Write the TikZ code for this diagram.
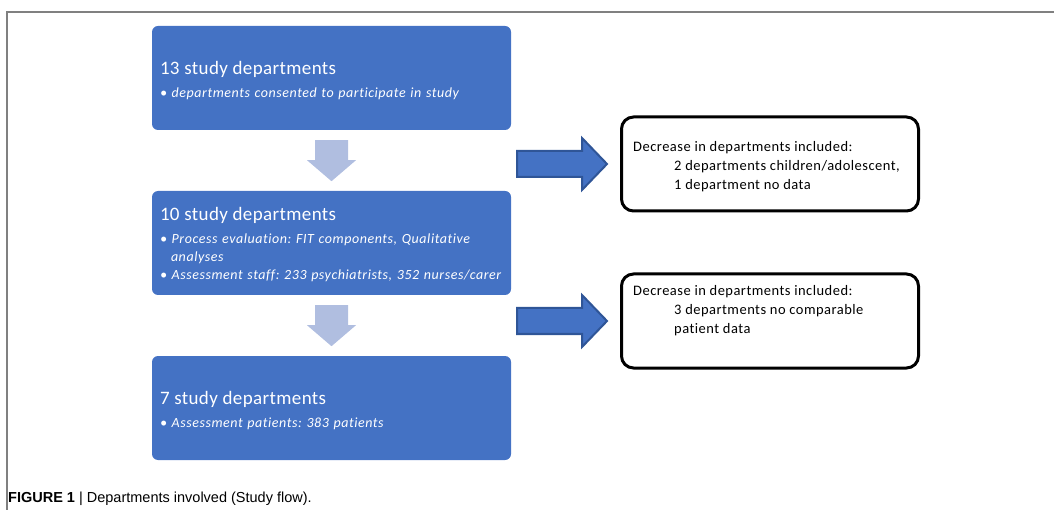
\documentclass[tikz,border=0pt]{standalone}
\usepackage{fontspec}
\setmainfont{Carlito}[Ligatures=CommonOff]
\newfontfamily\capfont{Liberation Sans}
\usetikzlibrary{calc}
\frenchspacing
\definecolor{studyblue}{HTML}{4472C4}
\definecolor{arrowpale}{HTML}{B0BEE0}
\definecolor{arrowedge}{HTML}{2F5597}
\definecolor{framegray}{HTML}{808080}
\newcommand{\boxtitle}{\upshape\addfontfeatures{LetterSpace=2}\fontsize{19}{22}\selectfont}
\newcommand{\boxitem}{\itshape\addfontfeatures{LetterSpace=4}\fontsize{14}{18}\selectfont}
\tikzset{
  studybox/.style={fill=studyblue, rounded corners=6pt, minimum width=359pt, minimum height=104pt},
  studytext/.style={text width=343pt, align=left, inner sep=0pt, text=white, font=\boxitem},
  dropbox/.style={draw, line width=3pt, rounded corners=12pt, minimum width=297pt, minimum height=94pt},
  droptext/.style={align=left, inner sep=0pt, font=\addfontfeatures{LetterSpace=3.3}\fontsize{14.5}{19}\selectfont},
  downarrow/.style={fill=arrowpale},
  rightarrow/.style={fill=studyblue, draw=arrowedge, line width=2pt}
}
\begin{document}
\begin{tikzpicture}[x=1pt,y=-1pt]
\useasboundingbox (0,0) rectangle (1054,510);
% frame and caption
\draw[framegray, line width=2pt] (7,510) -- (7,12) -- (1054,12);
\node[anchor=base west, inner sep=0pt, font=\capfont\fontsize{14.5}{16}\selectfont] (caption) at (8,502)
  {\textbf{FIGURE 1} \textbar{} Departments involved (Study flow).};
% study flow
\node[studybox] (box13) at (331.5,78) {};
\node[studytext] (box13txt) at ($(box13.center)+(0,3)$) {{\boxtitle 13 study departments}\\[5pt]
  \textbullet{} departments consented to participate in study};
\node[studybox] (box10) at (331.5,243) {};
\node[studytext] (box10txt) at ($(box10.center)+(0,2)$) {{\boxtitle 10 study departments}\\[5pt]
  \textbullet{} Process evaluation: FIT components, Qualitative\\ \hspace*{11pt}analyses\\
  \textbullet{} Assessment staff: 233 psychiatrists, 352 nurses/carer};
\node[studybox] (box7) at (331.5,408) {};
\node[studytext] (box7txt) at ($(box7.center)+(0,3)$) {{\boxtitle 7 study departments}\\[5pt]
  \textbullet{} Assessment patients: 383 patients};
\fill[downarrow] ($(box13.south)+(-16.5,10)$) -- ++(33,0) -- ++(0,20) -- ++(8,0) -- ++(-24.5,21) -- ++(-24.5,-21) -- ++(8,0) -- cycle;
\fill[downarrow] ($(box10.south)+(-16.5,10)$) -- ++(33,0) -- ++(0,20) -- ++(8,0) -- ++(-24.5,21) -- ++(-24.5,-21) -- ++(8,0) -- cycle;
% excluded departments
\node[dropbox] (drop1) at (770,164) {};
\node[droptext, anchor=north west] (drop1txt) at ($(drop1.north west)+(13,26)$)
  {Decrease in departments included:\\ \hspace*{41pt}2 departments children/adolescent,\\ \hspace*{41pt}1 department no data};
\node[dropbox] (drop2) at (770,321) {};
\node[droptext, anchor=north west] (drop2txt) at ($(drop2.north west)+(13,13)$)
  {Decrease in departments included:\\ \hspace*{41pt}3 departments no comparable\\ \hspace*{41pt}patient data};
\filldraw[rightarrow] ($(drop1.west)+(-103,-13)$) -- ++(65,0) -- ++(0,-13) -- ++(25,26) -- ++(-25,26) -- ++(0,-13) -- ++(-65,0) -- cycle;
\filldraw[rightarrow] ($(drop2.west)+(-103,-13)$) -- ++(65,0) -- ++(0,-13) -- ++(25,26) -- ++(-25,26) -- ++(0,-13) -- ++(-65,0) -- cycle;
\end{tikzpicture}
\end{document}
